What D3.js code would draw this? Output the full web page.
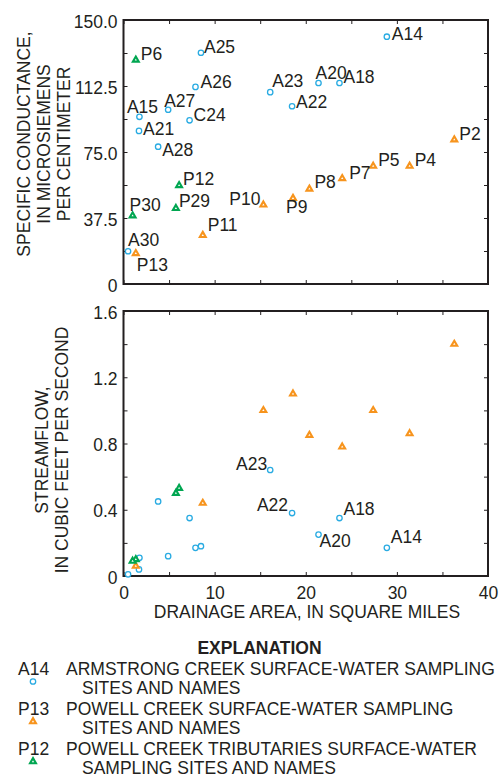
<!DOCTYPE html>
<html>
<head>
<meta charset="utf-8">
<script src="https://cdn.jsdelivr.net/npm/d3@7"></script>
<style>
  body { margin: 0; background: #fff; }
  text { font-family: "Liberation Sans", Arial, sans-serif; font-size: 17.5px; fill: #231f20; }
  .axis path { display: none; }
  .axis line { stroke: #231f20; stroke-width: 1; }
</style>
</head>
<body>
<svg width="502" height="777"></svg>
<script>
// Armstrong Creek sites
var armSites = ["A14", "A15", "A18", "A20", "A21", "A22", "A23", "A25", "A26", "A27", "A28", "A30", "C24"];
var armArea = [28.9, 1.75, 23.7, 21.4, 1.7, 18.5, 16.1, 8.5, 7.9, 4.9, 3.8, 0.5, 7.25];
var armCond = [140.5, 95, 114.2, 114.2, 87, 101, 109, 131.4, 112, 99, 78, 18.6, 93];
var armFlow = [0.17, 0.11, 0.35, 0.25, 0.04, 0.38, 0.64, 0.18, 0.17, 0.12, 0.45, 0.01, 0.35];

// Powell Creek sites
var powSites = ["P2", "P4", "P5", "P7", "P8", "P9", "P10", "P11", "P13"];
var powArea = [36.3, 31.4, 27.4, 24.0, 20.4, 18.6, 15.35, 8.7, 1.35];
var powCond = [82, 67, 67, 60, 54, 48.7, 45, 27.7, 17.4];
var powFlow = [1.40, 0.86, 1.0, 0.78, 0.85, 1.10, 1.0, 0.44, 0.06];

// Powell Creek tributaries
var tribSites = ["P6", "P12", "P29", "P30"];
var tribArea = [1.35, 6.1, 5.75, 1.0];
var tribCond = [127.3, 56, 43, 38.8];
var tribFlow = [0.10, 0.53, 0.50, 0.09];

var condTicks = [0, 37.5, 75, 112.5, 150];
var flowTicks = [0, 0.4, 0.8, 1.2, 1.6];
var areaTicks = [0, 10, 20, 30, 40];

// label placement: [dx, dy, anchor]
var topLabels = {
  P6: [5, 0, "start"], A25: [3, 0, "start"], A26: [5, 1, "start"], A23: [2, -5, "start"],
  A27: [-4, -3, "start"], A15: [3, -4, "middle"], C24: [4, 1, "start"], A21: [4, 4, "start"],
  A28: [4, 9, "start"], A14: [5, 3, "start"], A20: [-3, -4, "start"], A18: [4, 0, "start"],
  A22: [4, 2, "start"], P2: [5, 0, "start"], P5: [5, 0, "start"], P4: [5, 0, "start"],
  P7: [7, 1, "start"], P8: [5, -1, "start"], P9: [-7, 15, "start"], P12: [4, 0, "start"],
  P29: [3, -1, "start"], P30: [-3, -5, "start"], P10: [-3, 0, "end"], P11: [5, -4, "start"],
  A30: [0, -5, "start"], P13: [1, 18, "start"]
};
var botLabels = {
  A23: [-3, 0, "end"], A22: [-4, -2, "end"], A18: [4, -3, "start"],
  A20: [1, 12, "start"], A14: [4, -5, "start"]
};

var blue = "#29abe2", orange = "#f7941d", green = "#00a651";

var series = [
  { sites: armSites, area: armArea, cond: armCond, flow: armFlow, color: blue, shape: "circle" },
  { sites: powSites, area: powArea, cond: powCond, flow: powFlow, color: orange, shape: "triangle" },
  { sites: tribSites, area: tribArea, cond: tribCond, flow: tribFlow, color: green, shape: "triangle" }
];

var svg = d3.select("svg");
var left = 123.5, right = 488;

var x = d3.scaleLinear().domain([0, 40]).range([left, right]);
var yTop = d3.scaleLinear().domain([0, 150]).range([284, 20]);
var yBot = d3.scaleLinear().domain([0, 1.6]).range([576, 311]);

var triPath = d3.symbol().type(d3.symbolTriangle).size(15)();

function marker(g, shape, color, px, py) {
  if (shape === "circle") {
    g.append("circle")
      .attr("cx", px).attr("cy", py).attr("r", 2.7)
      .style("fill", "#fff").style("stroke", color).style("stroke-width", 1.3);
  } else {
    g.append("path")
      .attr("d", triPath)
      .attr("transform", "translate(" + px + "," + py + ")")
      .style("fill", "#fff").style("stroke", color).style("stroke-width", 2.1)
      .style("stroke-linejoin", "miter");
  }
}

function panel(y, yTickStep, yLabels, fmt, field, labels, showX) {
  var g = svg.append("g");
  var top = y.range()[1], bottom = y.range()[0];
  var minor = d3.range(0, y.domain()[1] + 1e-9, yTickStep);
  var xMinor = d3.range(0, 40.01, 5);

  // inward ticks on all four sides
  g.append("g").attr("class", "axis").attr("transform", "translate(" + left + ",0)")
    .call(d3.axisLeft(y).tickValues(minor).tickSize(-4).tickFormat(""));
  g.append("g").attr("class", "axis").attr("transform", "translate(" + right + ",0)")
    .call(d3.axisRight(y).tickValues(minor).tickSize(-4).tickFormat(""));
  g.append("g").attr("class", "axis").attr("transform", "translate(0," + top + ")")
    .call(d3.axisTop(x).tickValues(xMinor).tickSize(-4).tickFormat(""));
  g.append("g").attr("class", "axis").attr("transform", "translate(0," + bottom + ")")
    .call(d3.axisBottom(x).tickValues(xMinor).tickSize(-4).tickFormat(""));

  // tick labels
  g.append("g").attr("class", "axis").attr("transform", "translate(" + left + ",0)")
    .call(d3.axisLeft(y).tickValues(yLabels).tickSize(0).tickPadding(6).tickFormat(fmt))
    .selectAll("text").attr("dy", "0.4em");
  if (showX) {
    g.append("g").attr("class", "axis").attr("transform", "translate(0," + bottom + ")")
      .call(d3.axisBottom(x).tickValues(areaTicks).tickSize(0).tickPadding(11).tickFormat(d3.format("d")));
  }

  g.append("rect")
    .attr("x", left).attr("y", top)
    .attr("width", right - left).attr("height", bottom - top)
    .style("fill", "none").style("stroke", "#231f20").style("stroke-width", 2);

  series.forEach(function(s) {
    s.sites.forEach(function(name, i) {
      var px = x(s.area[i]), py = y(s[field][i]);
      marker(g, s.shape, s.color, px, py);
      var lp = labels[name];
      if (lp) {
        g.append("text")
          .attr("x", px + lp[0]).attr("y", py + lp[1])
          .attr("text-anchor", lp[2])
          .text(name);
      }
    });
  });
  return g;
}

var tickFmt = function(d) { return d === 0 ? "0" : d3.format(".1f")(d); };
panel(yTop, 18.75, condTicks, tickFmt, "cond", topLabels, false);
panel(yBot, 0.2, flowTicks, tickFmt, "flow", botLabels, true);

// axis titles
function multiLine(lines, cy, baselines) {
  var t = svg.append("text")
    .attr("transform", "translate(0," + cy + ")rotate(-90)")
    .attr("text-anchor", "middle");
  lines.forEach(function(l, i) {
    t.append("tspan").attr("x", 0).attr("y", baselines[i]).text(l);
  });
}
multiLine(["SPECIFIC CONDUCTANCE,", "IN MICROSIEMENS", "PER CENTIMETER"], 144, [30, 50, 70]);
multiLine(["STREAMFLOW,", "IN CUBIC FEET PER SECOND"], 450, [48, 68]);

svg.append("text")
  .attr("x", 307).attr("y", 618)
  .attr("text-anchor", "middle")
  .text("DRAINAGE AREA, IN SQUARE MILES");

// Explanation
svg.append("text")
  .attr("x", 259.5).attr("y", 654)
  .attr("text-anchor", "middle")
  .style("font-weight", "bold")
  .text("EXPLANATION");

var legend = [
  { code: "A14", lines: ["ARMSTRONG CREEK SURFACE-WATER SAMPLING", "SITES AND NAMES"], color: blue, shape: "circle" },
  { code: "P13", lines: ["POWELL CREEK SURFACE-WATER SAMPLING", "SITES AND NAMES"], color: orange, shape: "triangle" },
  { code: "P12", lines: ["POWELL CREEK TRIBUTARIES SURFACE-WATER", "SAMPLING SITES AND NAMES"], color: green, shape: "triangle" }
];
var lg = svg.append("g");
legend.forEach(function(d, i) {
  var by = 674.5 + i * 40;
  lg.append("text").attr("x", 18).attr("y", by).text(d.code);
  marker(lg, d.shape, d.color, 33, by + 7);
  lg.append("text").attr("x", 66).attr("y", by).text(d.lines[0]);
  lg.append("text").attr("x", 82).attr("y", by + 19.5).text(d.lines[1]);
});
</script>
</body>
</html>
